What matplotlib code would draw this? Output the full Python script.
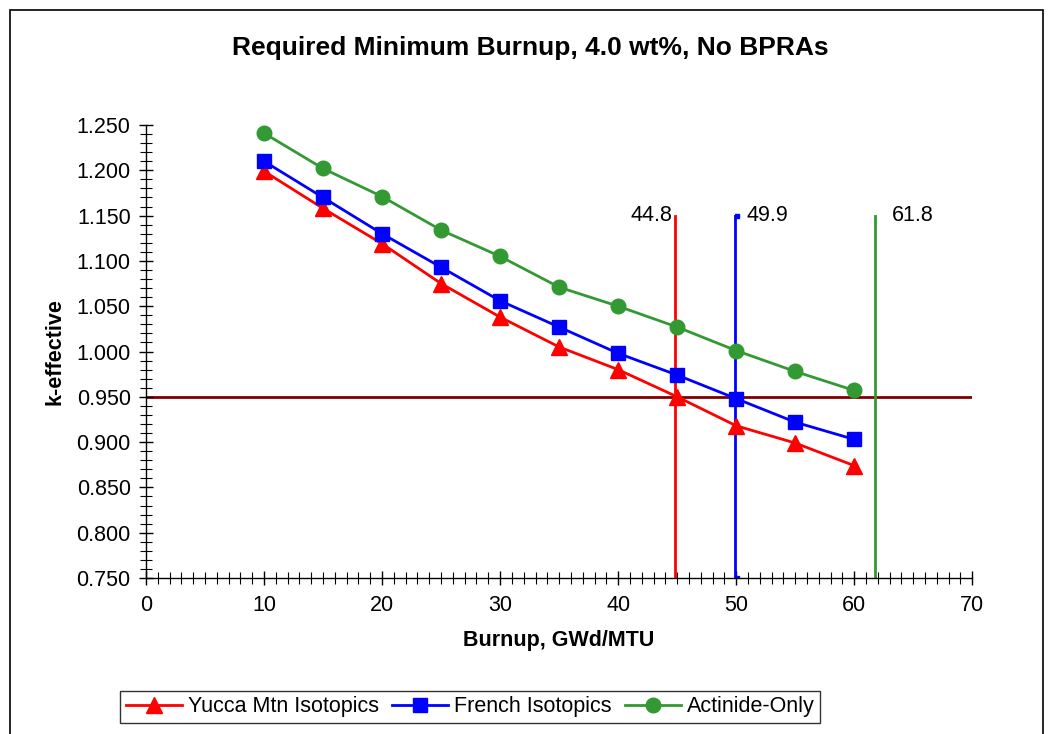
import matplotlib.pyplot as plt
from matplotlib.ticker import MultipleLocator
from matplotlib.patches import Rectangle

plt.rcParams['font.family'] = ['Liberation Sans', 'DejaVu Sans']

# data
burnup = [10, 15, 20, 25, 30, 35, 40, 45, 50, 55, 60]
yucca = [1.199, 1.158, 1.119, 1.075, 1.038, 1.005, 0.980, 0.950, 0.918, 0.899, 0.874]
french = [1.210, 1.170, 1.130, 1.093, 1.056, 1.027, 0.998, 0.974, 0.948, 0.922, 0.903]
actinide = [1.241, 1.202, 1.171, 1.134, 1.105, 1.071, 1.050, 1.027, 1.001, 0.978, 0.957]

limit_k = 0.950
min_burnup = [44.8, 49.9, 61.8]
min_colors = ['#ff0000', '#0000ff', '#339933']
vline_top = 1.150

fig = plt.figure(figsize=(10.5, 7.34), dpi=100)
ax = fig.add_axes([0.139, 0.2125, 0.787, 0.6172])

# outer chart border
fig.patches.append(Rectangle((10/1050, -0.1), 1033/1050, 1 - 10/734 + 0.1,
                             transform=fig.transFigure, fill=False,
                             edgecolor='black', linewidth=1.2))

ax.plot([0, 70], [limit_k, limit_k], color='#800000', lw=2, zorder=1)

for xb, c in zip(min_burnup, min_colors):
    ax.plot([xb, xb], [0.75, vline_top], color=c, lw=2, zorder=2)
# the blue one has tiny end markers
ax.plot([min_burnup[1] + 0.2, min_burnup[1] + 0.2], [0.75, vline_top], color='#0000ff',
        lw=0, marker='s', ms=3.5, zorder=2)

ax.text(min_burnup[0] - 0.2, vline_top, '44.8', ha='right', va='center', fontsize=15.5)
ax.text(min_burnup[1] + 1.0, vline_top, '49.9', ha='left', va='center', fontsize=15.5)
ax.text(min_burnup[2] + 1.4, vline_top, '61.8', ha='left', va='center', fontsize=15.5)

ax.plot(burnup, yucca, color='#ff0000', lw=2, marker='^', ms=11,
        label='Yucca Mtn Isotopics', zorder=3)
ax.plot(burnup, french, color='#0000ff', lw=2, marker='s', ms=10.5,
        label='French Isotopics', zorder=3)
ax.plot(burnup, actinide, color='#339933', lw=2, marker='o', ms=10.5,
        label='Actinide-Only', zorder=3)

ax.set_xlim(0, 70)
ax.set_ylim(0.75, 1.25)
ax.xaxis.set_major_locator(MultipleLocator(10))
ax.xaxis.set_minor_locator(MultipleLocator(1))
ax.yaxis.set_major_locator(MultipleLocator(0.05))
ax.yaxis.set_minor_locator(MultipleLocator(0.01))
ax.yaxis.set_major_formatter(plt.FuncFormatter(lambda v, p: f'{v:.3f}'))
ax.tick_params(which='major', direction='inout', length=10, width=1, labelsize=15.5)
ax.tick_params(which='minor', direction='inout', length=8, width=0.8)
ax.tick_params(axis='x', which='major', pad=7)
ax.tick_params(axis='y', which='major', pad=6)
for s in ['top', 'right']:
    ax.spines[s].set_visible(False)
ax.spines['left'].set_linewidth(1)
ax.spines['bottom'].set_linewidth(1)

ax.set_xlabel('Burnup, GWd/MTU', fontsize=15.5, fontweight='bold', labelpad=10)
ax.set_ylabel('k-effective', fontsize=15.5, fontweight='bold', labelpad=8)
fig.text(0.505, 0.935, 'Required Minimum Burnup, 4.0 wt%, No BPRAs',
         ha='center', va='center', fontsize=19, fontweight='bold')

leg = fig.legend(loc='center', bbox_to_anchor=(0.448, 0.037), ncol=3, fontsize=15.5,
                 frameon=True, fancybox=False, edgecolor='black', handlelength=2.6,
                 columnspacing=0.6, handletextpad=0.3, borderpad=0.25)
leg.get_frame().set_linewidth(1)

fig.savefig('out.png', dpi=100)
